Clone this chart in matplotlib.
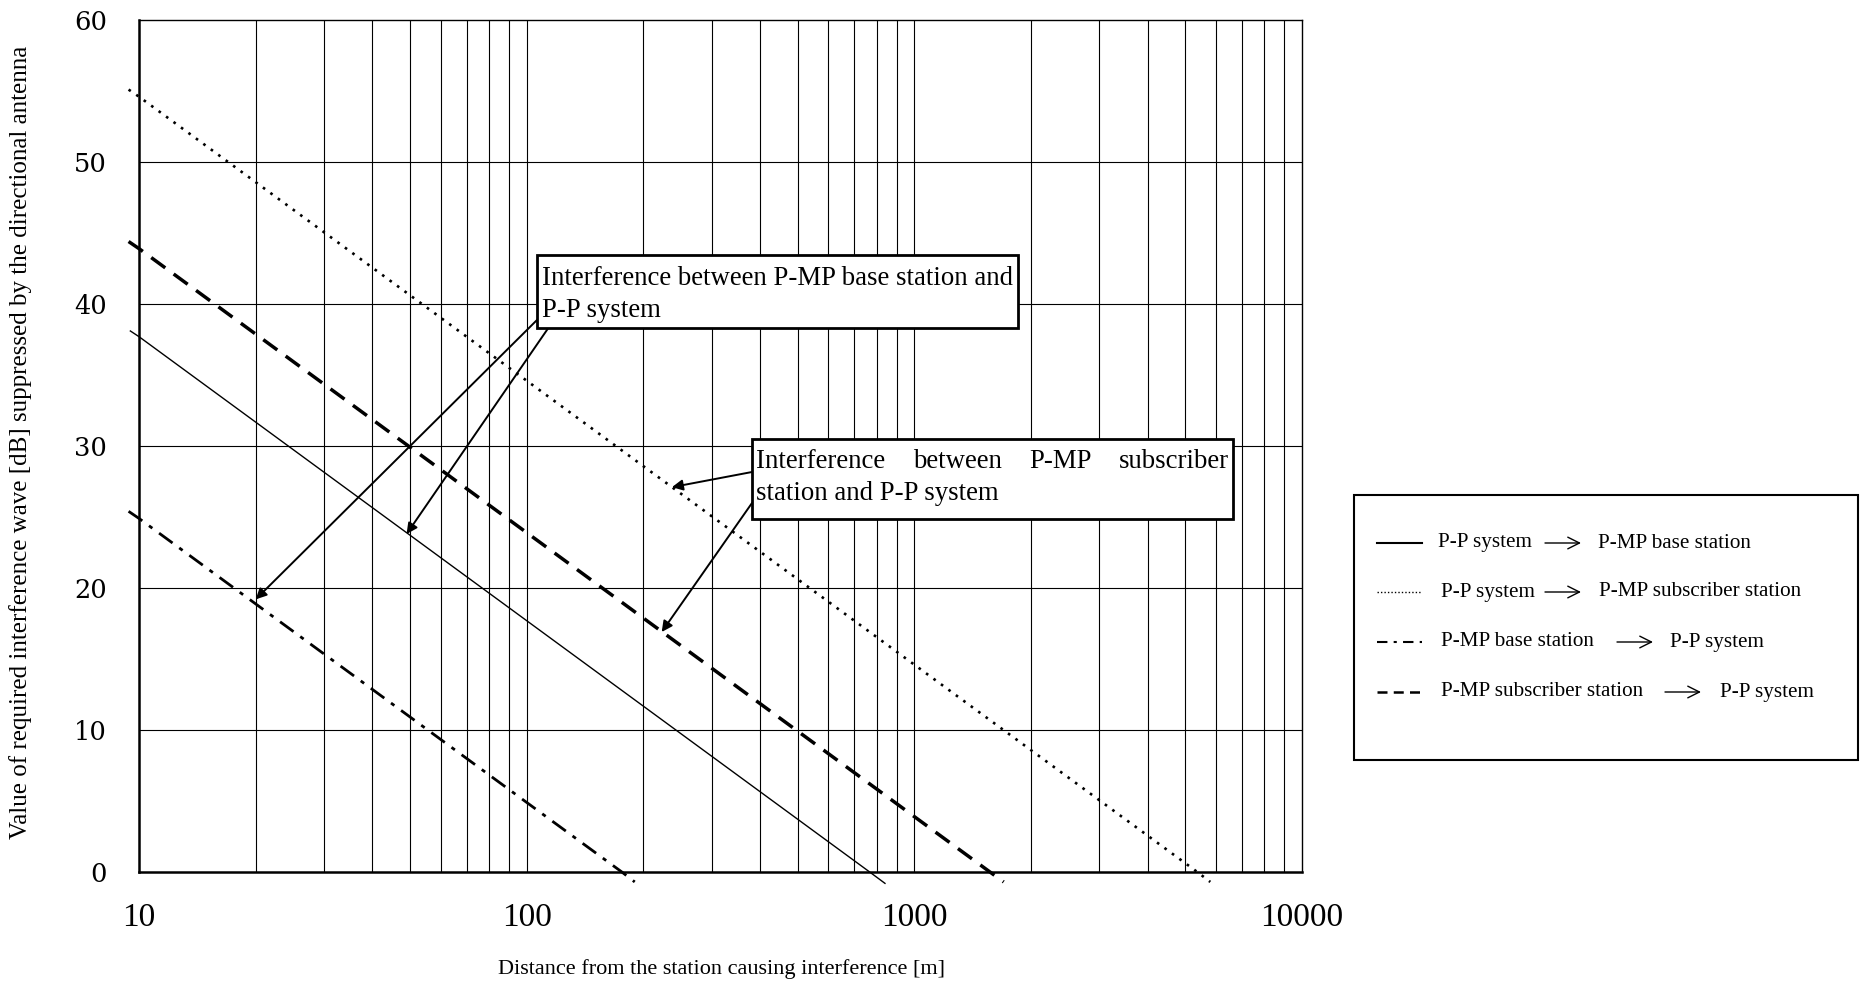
import matplotlib
matplotlib.use('Agg')
import matplotlib.pyplot as plt
from matplotlib.patches import Rectangle, FancyArrowPatch
from matplotlib.lines import Line2D

W, H = 1865, 986

# distances [m] and required suppression [dB] for each interference path
pp_base_d = [9.5, 10, 100, 767, 840]
pp_base_v = [38.1, 37.7, 17.7, 0.0, -0.8]

pp_sub_d = [9.4, 10, 100, 1000, 5370, 5800]
pp_sub_v = [55.1, 54.6, 34.6, 14.6, 0.0, -0.7]

mp_base_d = [9.4, 10, 100, 176, 190]
mp_base_v = [25.4, 24.9, 4.9, 0.0, -0.7]

mp_sub_d = [9.4, 10, 100, 1000, 1567, 1700]
mp_sub_v = [44.4, 43.9, 23.9, 3.9, 0.0, -0.7]

xticks = [10, 100, 1000, 10000]
xtick_labels = ['10', '100', '1000', '10000']
yticks = [0, 10, 20, 30, 40, 50, 60]

legend_rows = [
    ('P-P system', 'P-MP base station'),
    ('P-P system', 'P-MP subscriber station'),
    ('P-MP base station', 'P-P system'),
    ('P-MP subscriber station', 'P-P system'),
]

serif = 'Liberation Serif'


def fx(x):
    return x / W


def fy(y):
    return 1 - y / H


fig = plt.figure(figsize=(W / 100, H / 100), dpi=100)
ax = fig.add_axes([fx(139), fy(872), fx(1302) - fx(139), fy(20) - fy(872)])
ax.set_xscale('log')
ax.set_xlim(10, 10000)
ax.set_ylim(0, 60)

# grid: every unit of each decade, every 10 dB
for dec in [10, 100, 1000]:
    for k in range(2, 10):
        ax.axvline(dec * k, color='black', lw=0.8, zorder=1)
    if dec > 10:
        ax.axvline(dec, color='black', lw=0.8, zorder=1)
for yv in yticks[1:-1]:
    ax.axhline(yv, color='black', lw=0.8, zorder=1)

ax.plot(pp_base_d, pp_base_v, color='black', lw=1.0, clip_on=False, zorder=3)
ax.plot(pp_sub_d, pp_sub_v, color='black', lw=1.9, ls=(0, (1, 2.5)), clip_on=False, zorder=3)
ax.plot(mp_base_d, mp_base_v, color='black', lw=2.0, ls=(0, (6, 3, 1.5, 3)), clip_on=False, zorder=3)
ax.plot(mp_sub_d, mp_sub_v, color='black', lw=2.5, ls=(0, (5, 3)), clip_on=False, zorder=3)

for s in ['left', 'bottom']:
    ax.spines[s].set_linewidth(1.8)
for s in ['top', 'right']:
    ax.spines[s].set_linewidth(1.0)

ax.set_xticks(xticks)
ax.set_xticklabels(xtick_labels, fontfamily=serif, fontsize=24)
ax.xaxis.set_minor_locator(matplotlib.ticker.NullLocator())
ax.set_yticks(yticks)
ax.set_yticklabels([str(v) for v in yticks], fontfamily='DejaVu Serif', fontsize=18.5)
ax.tick_params(axis='x', length=0, pad=22)
ax.tick_params(axis='y', length=0, pad=23)

fig.text(fx(722), fy(969), 'Distance from the station causing interference [m]',
         ha='center', va='center', fontfamily=serif, fontsize=16)
fig.text(fx(21), fy(442),
         'Value of required interference wave [dB] suppressed by the directional antenna',
         ha='center', va='center', rotation=90, fontfamily=serif, fontsize=18)

# callout boxes
fig.patches.append(Rectangle((fx(537), fy(328)), fx(1018) - fx(537), fy(255) - fy(328),
                             transform=fig.transFigure, facecolor='white',
                             edgecolor='black', lw=2.0, zorder=5))
fig.text(fx(542), fy(285), 'Interference between P-MP base station and',
         fontfamily=serif, fontsize=19.3, va='baseline', zorder=6)
fig.text(fx(542), fy(317), 'P-P system', fontfamily=serif, fontsize=19.3,
         va='baseline', zorder=6)

fig.patches.append(Rectangle((fx(752), fy(519)), fx(1233) - fx(752), fy(439) - fy(519),
                             transform=fig.transFigure, facecolor='white',
                             edgecolor='black', lw=2.0, zorder=5))
for word, x in [('Interference', 756), ('between', 913), ('P-MP', 1029)]:
    fig.text(fx(x), fy(468), word, fontfamily=serif, fontsize=19.3, va='baseline', zorder=6)
fig.text(fx(1229), fy(468), 'subscriber', fontfamily=serif, fontsize=19.3,
         va='baseline', ha='right', zorder=6)
fig.text(fx(756), fy(500), 'station and P-P system', fontfamily=serif, fontsize=19.3,
         va='baseline', zorder=6)

arrow = dict(arrowstyle='-|>', color='black', lw=1.4, mutation_scale=16, shrinkA=0, shrinkB=0)
for head, tail in [((20, 19.2), (539, 318)), ((49, 23.8), (549, 327)),
                   ((237, 27.1), (752, 472)), ((223, 16.9), (752, 503))]:
    ax.annotate('', xy=head, xycoords='data', xytext=(fx(tail[0]), fy(tail[1])),
                textcoords='figure fraction', arrowprops=arrow, zorder=4)

# legend drawn by hand
fig.patches.append(Rectangle((fx(1354), fy(760)), fx(1858) - fx(1354), fy(495) - fy(760),
                             transform=fig.transFigure, facecolor='white',
                             edgecolor='black', lw=1.5, zorder=0))
styles = [dict(lw=1.5, ls='-'), dict(lw=1.0, ls=(0, (1, 1.5))),
          dict(lw=1.5, ls=(0, (5, 3, 1.5, 3))), dict(lw=1.8, ls=(0, (4, 2.5)))]
row_y = [543, 592, 642, 692]
left_x = [1438, 1441, 1441, 1441]
arrow_x = [1545, 1545, 1617, 1665]
right_x = [1598, 1599, 1670, 1720]
for (a, b), st, y, lx, axx, rx in zip(legend_rows, styles, row_y, left_x, arrow_x, right_x):
    fig.lines.append(Line2D([fx(1377), fx(1422)], [fy(y), fy(y)], transform=fig.transFigure,
                            color='black', zorder=3, **st))
    fig.text(fx(lx), fy(y), a, fontfamily=serif, fontsize=15.2, va='center', zorder=3)
    fig.text(fx(rx), fy(y), b, fontfamily=serif, fontsize=15.2, va='center', zorder=3)
    fig.add_artist(FancyArrowPatch(
        (fx(axx), fy(y)), (fx(axx + 36), fy(y)), transform=fig.transFigure,
        arrowstyle='->,head_length=0.6,head_width=0.3', mutation_scale=14,
        color='black', lw=1.0, shrinkA=0, shrinkB=0, zorder=3))

fig.savefig('out.png', dpi=100, facecolor='white')
